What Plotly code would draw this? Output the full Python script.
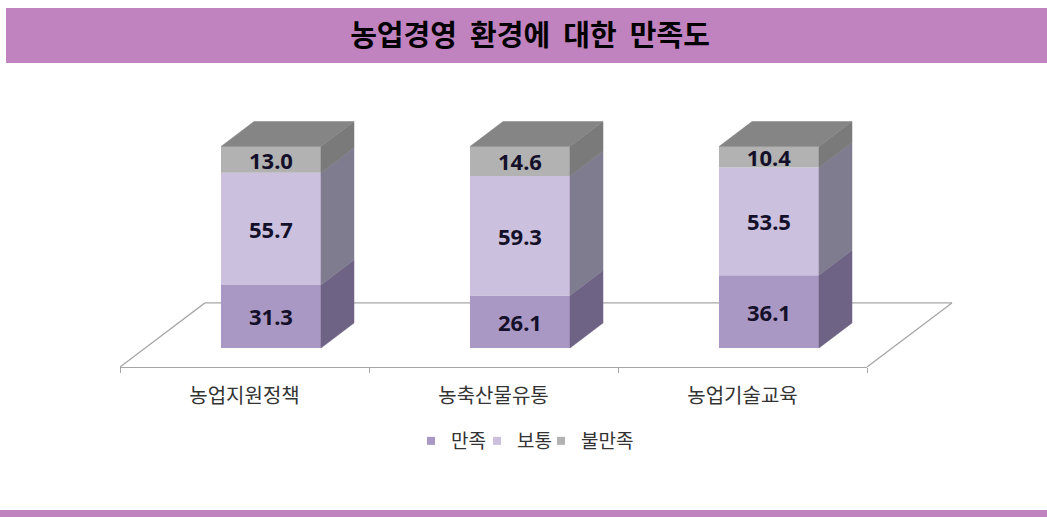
import numpy as np
import plotly.graph_objects as go

categories = ["농업지원정책", "농축산물유통", "농업기술교육"]
satisfied = [31.3, 26.1, 36.1]
neutral = [55.7, 59.3, 53.5]
unsatisfied = [13.0, 14.6, 10.4]
series_names = ["만족", "보통", "불만족"]
front_colors = ["#A998C3", "#CBC0DD", "#B2B2B2"]
side_colors = ["#6E6285", "#807C90", "#7A7A7A"]
top_color = "#858585"
text_color = "#14102A"
title_text = "농업경영  환경에  대한  만족도"

W, H = 1047, 517
AX_L, AX_R, FLOOR_R = 120, 867, 953
AX_BOTTOM, AX_TOP = 367, 100
Y_LO, Y_HI = -9.43, 123.1
BAR_W = 0.4016
BAR_SHIFT = 0.1064
DEPTH_X, DEPTH_Y = 0.1325, 12.4
FLOOR_X, FLOOR_Y = 0.341, 31.8

values = [np.array(satisfied), np.array(neutral), np.array(unsatisfied)]
bases = [np.zeros(3), values[0], values[0] + values[1]]
positions = np.arange(len(categories))

fig = go.Figure()

# floor of the 3D box (base subplot, beneath bars)
fig.add_trace(go.Scatter(
    x=[-0.5, -0.5 + FLOOR_X, 2.5 + FLOOR_X, 2.5],
    y=[Y_LO, Y_LO + FLOOR_Y, Y_LO + FLOOR_Y, Y_LO],
    mode="lines", line=dict(color="#A6A6A6", width=1.3),
    showlegend=False, hoverinfo="skip",
    xaxis="x", yaxis="y",
))

# front faces
for vals, base, name, col in zip(values, bases, series_names, front_colors):
    fig.add_trace(go.Bar(
        x=categories, y=vals, base=base, name=name,
        width=BAR_W, offset=-BAR_W / 2 + BAR_SHIFT,
        marker=dict(color=col, line=dict(width=0)),
        text=[f"{v:.1f}" for v in vals],
        textposition="inside", insidetextanchor="middle", textangle=0,
        constraintext="none",
        textfont=dict(family="Noto Sans", size=22, color=text_color, weight="bold"),
        showlegend=False, xaxis="x2", yaxis="y",
    ))


def poly_trace(xs, ys, color):
    return go.Scatter(
        x=xs, y=ys, mode="lines", fill="toself", fillcolor=color,
        line=dict(width=0.5, color=color), showlegend=False, hoverinfo="skip",
        xaxis="x3", yaxis="y",
    )


# side faces
right = positions + BAR_SHIFT + BAR_W / 2
for vals, base, col in zip(values, bases, side_colors):
    xs, ys = [], []
    for r, b, v in zip(right, base, vals):
        xs += [r, r + DEPTH_X, r + DEPTH_X, r, r, None]
        ys += [b, b + DEPTH_Y, b + v + DEPTH_Y, b + v, b, None]
    fig.add_trace(poly_trace(xs, ys, col))

# top faces
tops = bases[2] + values[2]
xs, ys = [], []
for r, t in zip(right, tops):
    xs += [r - BAR_W, r, r + DEPTH_X, r - BAR_W + DEPTH_X, r - BAR_W, None]
    ys += [t, t, t + DEPTH_Y, t + DEPTH_Y, t, None]
fig.add_trace(poly_trace(xs, ys, top_color))

# legend keys, each in its own legend box
legend_ids = ["legend", "legend2", "legend3"]
for name, col, lid in zip(series_names, front_colors, legend_ids):
    fig.add_trace(go.Scatter(
        x=[None], y=[None], mode="markers", name=name, legend=lid,
        marker=dict(symbol="square", size=8, color=col),
        xaxis="x3", yaxis="y",
    ))


def legend_box(left_px):
    return dict(
        orientation="h", x=left_px / W, xanchor="left", y=1 - 441 / H, yanchor="middle",
        font=dict(family="Noto Sans CJK KR", size=19, color="#333333"),
        bgcolor="rgba(0,0,0,0)", itemwidth=30,
    )


dom_x = [AX_L / W, AX_R / W]
fig.update_layout(
    width=W, height=H, autosize=False,
    margin=dict(l=0, r=0, t=0, b=0),
    paper_bgcolor="white", plot_bgcolor="rgba(0,0,0,0)",
    font=dict(family="Noto Sans CJK KR, Noto Sans"),
    barmode="overlay",
    showlegend=True,
    title=dict(
        text=title_text, x=530 / W, xanchor="center", xref="paper",
        y=1 - 36 / H, yanchor="middle", yref="paper",
        font=dict(family="Noto Sans CJK KR", size=29, color="#000000", weight="bold"),
    ),
    xaxis=dict(
        domain=[AX_L / W, FLOOR_R / W],
        range=[-0.5, -0.5 + 3 * (FLOOR_R - AX_L) / (AX_R - AX_L)],
        visible=False, anchor="y",
    ),
    xaxis2=dict(
        domain=dom_x, type="category", categoryorder="array", categoryarray=categories,
        range=[-0.5, 2.5], anchor="y",
        ticks="outside", tickson="boundaries", ticklen=5, tickcolor="#A6A6A6", tickwidth=1,
        showline=True, linecolor="#A6A6A6", linewidth=1.3,
        showgrid=False, zeroline=False, ticklabelstandoff=11,
        tickfont=dict(family="Noto Sans CJK KR", size=20, color="#333333"),
    ),
    xaxis3=dict(
        domain=dom_x, range=[-0.5, 2.5], overlaying="x2", anchor="y", visible=False,
    ),
    yaxis=dict(
        domain=[(H - AX_BOTTOM) / H, (H - AX_TOP) / H], range=[Y_LO, Y_HI],
        visible=False, fixedrange=True,
    ),
    legend=legend_box(411),
    legend2=legend_box(477),
    legend3=legend_box(541),
    shapes=[
        dict(type="rect", xref="paper", yref="paper", x0=6 / W, x1=1, y0=1 - 63 / H, y1=1 - 8 / H,
             fillcolor="#C083C0", line=dict(width=0), layer="below"),
        dict(type="rect", xref="paper", yref="paper", x0=0, x1=1, y0=0, y1=1 - 510 / H,
             fillcolor="#C083C0", line=dict(width=0), layer="below"),
    ],
)

fig.write_html(
    "out.html",
    config={"displayModeBar": False},
    post_script="document.body.style.margin='0';document.documentElement.style.overflow='hidden';",
)
